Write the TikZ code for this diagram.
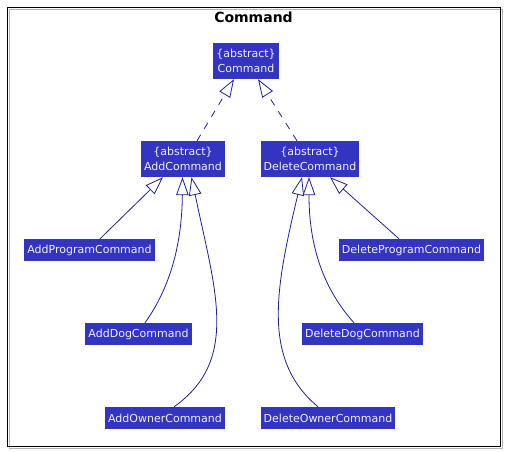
\documentclass[tikz,border=0pt]{standalone}
\usepackage{fontspec}
\setmainfont{DejaVu Sans}
\usetikzlibrary{arrows.meta}
\definecolor{clsfill}{RGB}{52,52,194}
\definecolor{edgecol}{RGB}{30,30,150}
\definecolor{clstext}{RGB}{240,240,255}
\tikzset{
  cls/.style={fill=clsfill, text=clstext, inner xsep=3pt, inner ysep=0pt,
    minimum height=22pt, font=\fontsize{11}{15}\selectfont, align=center},
  inh/.style={draw=edgecol, line width=0.8pt, -{Triangle[open, length=18pt, width=12.5pt, fill=white]}},
  impl/.style={inh, dash pattern=on 7pt off 7pt},
}
\begin{document}
\begin{tikzpicture}[x=1pt, y=-1pt]
\useasboundingbox (0,0) rectangle (505,451);
% frame
\draw[gray!60, line width=1pt] (9,9) rectangle (502,448);
\draw[black, line width=1pt] (7.5,7.5) rectangle (500.5,446);
\node[font=\fontsize{14}{16}\selectfont\bfseries] (title) at (253.5,17) {Command};

\node[cls, minimum height=36pt] (cmd) at (246,61) {\{abstract\}\\Command};
\node[cls, minimum height=36pt] (add) at (183,159) {\{abstract\}\\AddCommand};
\node[cls, minimum height=36pt] (del) at (310,159) {\{abstract\}\\DeleteCommand};

\node[cls] (addprog) at (89.5,250) {AddProgramCommand};
\node[cls] (adddog) at (138.5,334) {AddDogCommand};
\node[cls] (addown) at (165,418) {AddOwnerCommand};
\node[cls] (delprog) at (411.5,250) {DeleteProgramCommand};
\node[cls] (deldog) at (362.5,334) {DeleteDogCommand};
\node[cls] (delown) at (328,418) {DeleteOwnerCommand};

\draw[impl] ([xshift=14pt]add.north) -- ([xshift=-12pt]cmd.south);
\draw[impl] ([xshift=-13pt]del.north) -- ([xshift=12pt]cmd.south);

\draw[inh] ([xshift=10.5pt]addprog.north) -- ([xshift=-20pt]add.south);
\draw[inh] ([xshift=6.5pt]adddog.north) .. controls (172,285) and (182,240) .. ([xshift=-0.5pt]add.south);
\draw[inh] ([xshift=9pt]addown.north) .. controls (240,360) and (215,290) .. ([xshift=8.5pt]add.south);

\draw[inh] ([xshift=-12.5pt]delprog.north) -- ([xshift=20pt]del.south);
\draw[inh] ([xshift=-8.5pt]deldog.north) .. controls (320,285) and (309,240) .. ([xshift=-1pt]del.south);
\draw[inh] ([xshift=-10pt]delown.north) .. controls (262,360) and (275,290) .. ([xshift=-8pt]del.south);
\end{tikzpicture}
\end{document}
